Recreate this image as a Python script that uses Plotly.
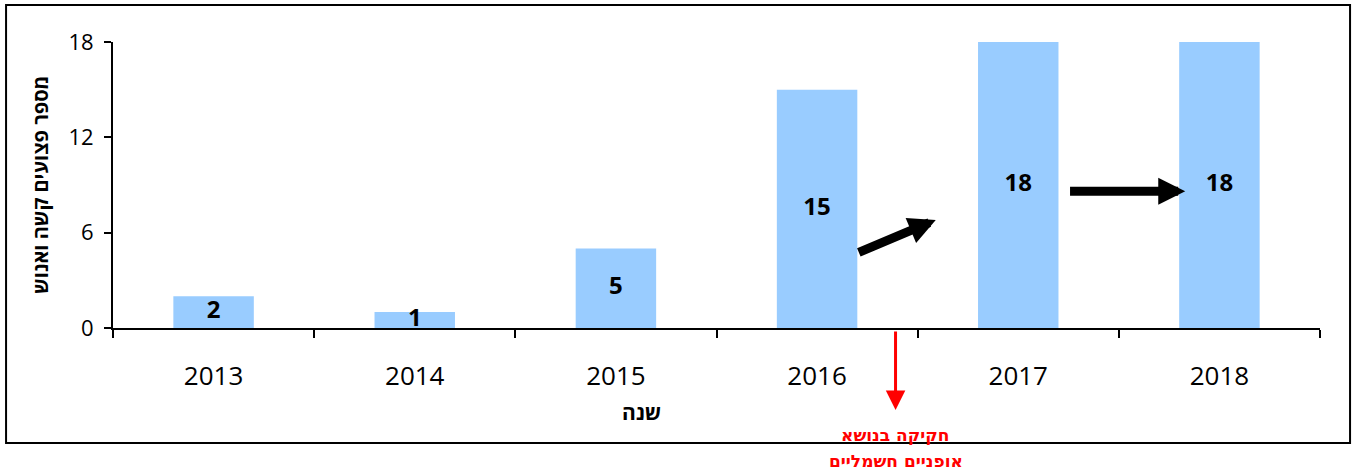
import plotly.graph_objects as go

years = ["2013", "2014", "2015", "2016", "2017", "2018"]
injured = [2, 1, 5, 15, 18, 18]
y_ticks = [0, 6, 12, 18]
y_title = "מספר פצועים קשה ואנוש"
x_title = "שנה"
note_lines = ["חקיקה בנושא", "אופניים חשמליים"]

BAR = "#99CCFF"
FONT = "Open Sans"

fig = go.Figure()
fig.add_trace(go.Bar(x=years, y=injured, marker=dict(color=BAR, line=dict(width=0)),
                     width=0.4, hoverinfo="skip"))
fig.add_trace(go.Scatter(x=years, y=[v / 2 for v in injured], mode="text",
                         text=[str(v) for v in injured],
                         textfont=dict(family=FONT, size=24, color="black", weight="bold"),
                         hoverinfo="skip"))

fig.update_layout(
    width=1357, height=471,
    margin=dict(l=113, r=37, t=42, b=143),
    paper_bgcolor="white", plot_bgcolor="white",
    showlegend=False,
    font=dict(family=FONT, color="black"),
    xaxis=dict(type="category", showline=True, linecolor="black", linewidth=2,
               ticks="outside", tickson="boundaries", ticklen=8, tickwidth=2, tickcolor="black",
               tickfont=dict(size=26, family=FONT), ticklabelstandoff=24,
               showgrid=False, zeroline=False, range=[-0.5, 5.5]),
    yaxis=dict(range=[0, 18], tickvals=y_ticks, showline=True, linecolor="black", linewidth=2,
               ticks="outside", ticklen=7, tickwidth=2, tickcolor="black",
               tickfont=dict(size=22, family=FONT), ticklabelstandoff=6,
               showgrid=False, zeroline=False),
)

# outer frame
fig.add_shape(type="rect", xref="paper", yref="paper", x0=-0.0886, x1=1.0249, y0=-0.402, y1=1.129,
              line=dict(color="black", width=2), fillcolor="rgba(0,0,0,0)", layer="below")

# axis titles
fig.add_annotation(text=f"<b>{y_title}</b>", xref="paper", yref="paper", x=-0.0605, y=0.5,
                   xanchor="center", yanchor="middle",
                   textangle=-90, showarrow=False, font=dict(size=20, family=FONT))
fig.add_annotation(text=f"<b>{x_title}</b>", xref="paper", yref="paper", x=0.4375, y=-0.294,
                   xanchor="center", yanchor="middle",
                   showarrow=False, font=dict(size=21, family=FONT))

# black arrows
fig.add_annotation(x=3.59, y=6.8, ax=3.2, ay=4.72, xref="x", yref="y", axref="x", ayref="y",
                   text="", showarrow=True, arrowhead=2, arrowsize=0.6, arrowwidth=9, arrowcolor="black")
fig.add_annotation(x=4.83, y=8.6, ax=4.25, ay=8.6, xref="x", yref="y", axref="x", ayref="y",
                   text="", showarrow=True, arrowhead=2, arrowsize=0.6, arrowwidth=9, arrowcolor="black")

# red arrow and note
fig.add_annotation(x=3.39, y=-0.287, ax=0, ay=-80, xref="x", yref="paper", axref="pixel", ayref="pixel",
                   text="", showarrow=True, arrowhead=2, arrowsize=1.3, arrowwidth=3, arrowcolor="red")
fig.add_annotation(text=f"<b>{note_lines[0]}</b>", xref="x", yref="paper", x=3.39, y=-0.374,
                   xanchor="center", yanchor="middle",
                   showarrow=False, font=dict(size=17, color="red", family="DejaVu Sans"))
fig.add_annotation(text=f"<b>{note_lines[1]}</b>", xref="x", yref="paper", x=3.39, y=-0.465,
                   xanchor="center", yanchor="middle",
                   showarrow=False, font=dict(size=17, color="red", family="DejaVu Sans"))

fig.write_html("out.html", config={"displayModeBar": False},
               post_script="document.body.style.margin='0';document.body.style.overflow='hidden';")
